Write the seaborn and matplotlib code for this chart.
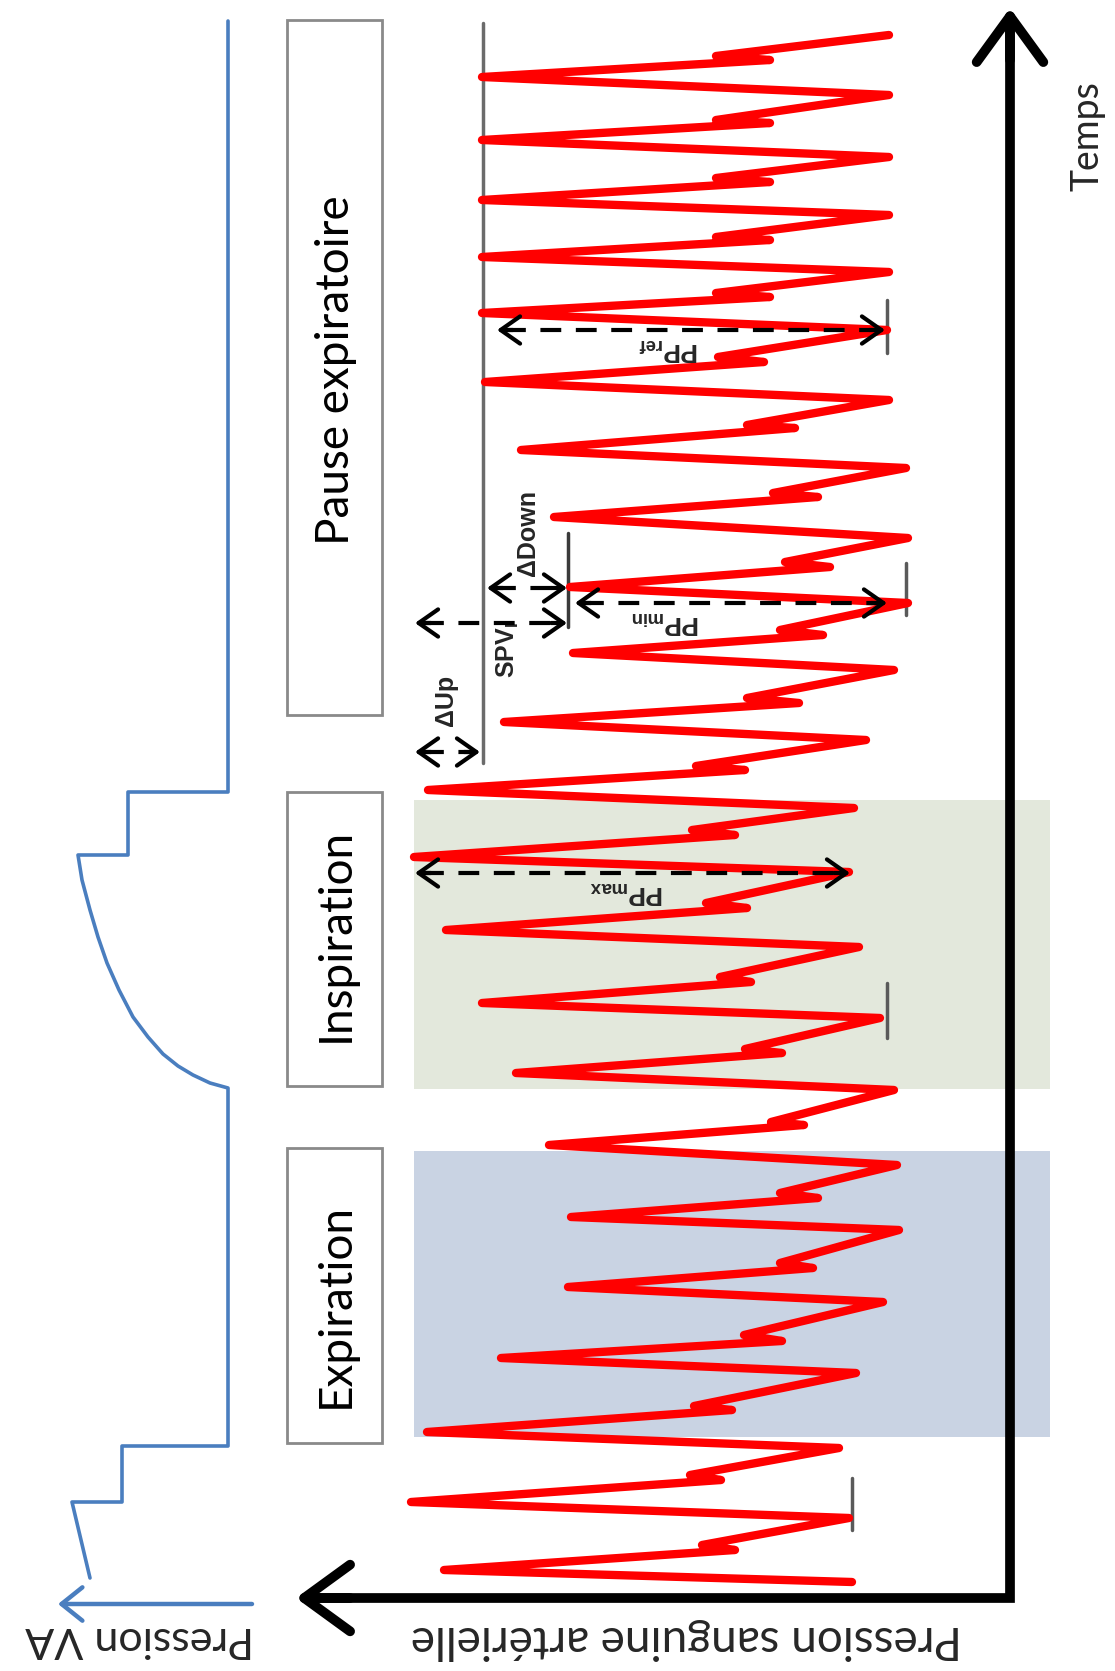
import numpy as np
import pandas as pd
import matplotlib
matplotlib.use("Agg")
import matplotlib.pyplot as plt
import seaborn as sns
from matplotlib.patches import Rectangle

sns.set_theme(style="white")
plt.rcParams['font.family'] = ['Lato', 'DejaVu Sans']
plt.rcParams['mathtext.fontset'] = 'custom'
plt.rcParams['mathtext.bf'] = 'Liberation Sans:bold'
plt.rcParams['mathtext.rm'] = 'Liberation Sans'

# arterial pressure trace (pressure -> x, time -> y)
trough_p = [852, 849, 839, 856, 883, 899, 897, 894, 880, 859, 849, 854, 866,
            894, 908, 908, 906, 889, 887, 889, 889, 889, 889, 889]
trough_t = [1582, 1518, 1448, 1373, 1302, 1230, 1165, 1090, 1018, 947, 872, 808, 740,
            670, 603, 538, 468, 400, 330, 272, 215, 157, 95, 35]
peak_p = [444, 411, 427, 501, 568, 571, 549, 516, 482, 446, 414, 428, 504,
          573, 570, 554, 521, 485, 482, 482, 482, 482, 482]
peak_t = [1570, 1502, 1432, 1358, 1287, 1217, 1145, 1073, 1003, 930, 857, 790, 722,
          653, 587, 517, 450, 382, 313, 257, 200, 140, 77]
notch_p = [735, 721, 732, 782, 813, 818, 804, 782, 751, 747, 735, 745, 799,
           823, 830, 818, 795, 764, 770, 770, 770, 770, 770]
notch_t = [1550, 1480, 1410, 1341, 1268, 1198, 1125, 1053, 982, 908, 835, 770, 703,
           635, 567, 497, 428, 362, 297, 240, 182, 123, 60]
rebound_p = [702, 690, 694, 744, 780, 780, 771, 745, 720, 706, 692, 696, 747,
             780, 785, 773, 747, 718, 716, 716, 716, 716, 716]
rebound_t = [1545, 1475, 1406, 1335, 1263, 1193, 1122, 1049, 977, 903, 830, 766, 698,
             630, 562, 493, 425, 357, 293, 237, 178, 120, 56]

# airway pressure (VA)
va_p = [228, 228, 128, 128, 78, 82, 90, 98, 107, 119, 133, 148, 163, 178, 193, 210, 228,
        228, 122, 122, 72, 90]
va_t = [21, 792, 792, 855, 855, 880, 910, 937, 963, 990, 1017, 1037, 1054, 1066, 1075, 1083, 1088,
        1446, 1446, 1502, 1502, 1578]

# ventilation phases
phases = ['Pause expiratoire', 'Inspiration', 'Expiration']
phase_start = [20, 792, 1148]
phase_end = [715, 1086, 1443]
phase_label_t = [370, 935, 1305]
shade_start = [800, 1151]
shade_end = [1089, 1437]
shade_colors = ['#e3e8dc', '#c9d3e3']

# reference systolic level during pause and measurements
ref_sys = 483
ref_t = [23, 763]
pp_labels = [r'$\mathbf{PP}_{\mathbf{ref}}$', r'$\mathbf{PP}_{\mathbf{min}}$', r'$\mathbf{PP}_{\mathbf{max}}$']
pp_t = [330, 603, 873]
pp_from = [497, 575, 415]
pp_to = [885, 887, 850]
trough_marks_p = [887, 906, 887, 852]
trough_marks_t = [(300, 353), (563, 615), (983, 1038), (1478, 1530)]
min_sys = 568

fig = plt.figure(figsize=(11.15, 16.71), dpi=100)
ax = fig.add_axes([0, 0, 1, 1])

# shaded phases
for s, e, c in zip(shade_start, shade_end, shade_colors):
    ax.add_patch(Rectangle((414, s), 636, e - s, facecolor=c, edgecolor='none', zorder=0))

# phase boxes
for name, s, e, lt in zip(phases, phase_start, phase_end, phase_label_t):
    ax.add_patch(Rectangle((287, s), 95, e - s, facecolor='white', edgecolor='#8a8a8a', lw=2, zorder=1))
    ax.text(336, lt, name, rotation=90, ha='center', va='center', fontsize=33, color='black')

# gray reference line and trough markers
ax.plot([ref_sys, ref_sys], ref_t, color='#6b6b6b', lw=2.5, zorder=2)
for p, (a, b) in zip(trough_marks_p, trough_marks_t):
    ax.plot([p, p], [a, b], color='#5a5a5a', lw=2.5, zorder=2)
ax.plot([min_sys, min_sys], [533, 627], color='#3a3a3a', lw=2.5, zorder=2)

# red arterial pressure trace
px, pt = [trough_p[0]], [trough_t[0]]
for i in range(len(peak_p)):
    px += [peak_p[i], notch_p[i], rebound_p[i], trough_p[i + 1]]
    pt += [peak_t[i], notch_t[i], rebound_t[i], trough_t[i + 1]]
wave = pd.DataFrame({'p': px, 't': pt})
sns.lineplot(data=wave, x='p', y='t', sort=False, estimator=None, color='#ff0000',
             lw=6, ax=ax, zorder=3, solid_joinstyle='round', solid_capstyle='round')

# blue airway pressure trace
va = pd.DataFrame({'p': va_p, 't': va_t})
sns.lineplot(data=va, x='p', y='t', sort=False, estimator=None, color='#4a7ebf',
             lw=2.6, ax=ax, zorder=3)


def dashed_arrow(y, x0, x1):
    ax.plot([x0 + 8, x1 - 8], [y, y], color='black', lw=3, ls=(0, (5, 3.5)), zorder=4)
    hp = dict(arrowstyle='->,head_length=0.5,head_width=0.35', color='black', lw=3,
              mutation_scale=28, shrinkA=0, shrinkB=0)
    ax.annotate('', xy=(x0, y), xytext=(x0 + 16, y), arrowprops=hp, zorder=4)
    ax.annotate('', xy=(x1, y), xytext=(x1 - 16, y), arrowprops=hp, zorder=4)


for lab, y, a, b, lx in zip(pp_labels, pp_t, pp_from, pp_to, [668, 665, 627]):
    dashed_arrow(y, a, b)
    ax.text(lx, y + 19, lab, rotation=180, ha='center', va='center', fontsize=19, zorder=5)

dashed_arrow(623, 415, 567)
dashed_arrow(752, 415, 480)
dashed_arrow(588, 487, 567)
ax.text(446, 700, 'ΔUp', rotation=90, ha='center', va='center', fontsize=18,
        family='Liberation Sans', fontweight='bold')
ax.text(528, 533, 'ΔDown', rotation=90, ha='center', va='center', fontsize=18,
        family='Liberation Sans', fontweight='bold')
ax.text(508, 650, r'$\mathbf{SPV}_{\mathbf{I}}$', rotation=90, ha='center', va='center', fontsize=18)

# axes arrows
ax.plot([316, 1010, 1010], [1598, 1598, 20], color='black', lw=7,
        solid_joinstyle='miter', zorder=6)
big = dict(arrowstyle='->,head_length=0.55,head_width=0.4', color='black', lw=7,
           mutation_scale=60, shrinkA=0, shrinkB=0)
ax.annotate('', xy=(1010, 8), xytext=(1010, 60), arrowprops=big, zorder=6)
ax.annotate('', xy=(296, 1598), xytext=(350, 1598), arrowprops=big, zorder=6)
ax.annotate('', xy=(58, 1604), xytext=(252, 1604),
            arrowprops=dict(arrowstyle='->,head_length=0.5,head_width=0.4', color='#4a7ebf',
                            lw=3.2, mutation_scale=30, shrinkA=0, shrinkB=0))

ax.text(1087, 136, 'Temps', rotation=90, ha='center', va='center', fontsize=27)
ax.text(686, 1639, 'Pression sanguine artérielle', rotation=180, ha='center', va='center', fontsize=33)
ax.text(140, 1639, 'Pression VA', rotation=180, ha='center', va='center', fontsize=31)

ax.set_xlim(0, 1115)
ax.set_ylim(1671, 0)
ax.axis('off')
fig.savefig('out.png', dpi=100, facecolor='white')
